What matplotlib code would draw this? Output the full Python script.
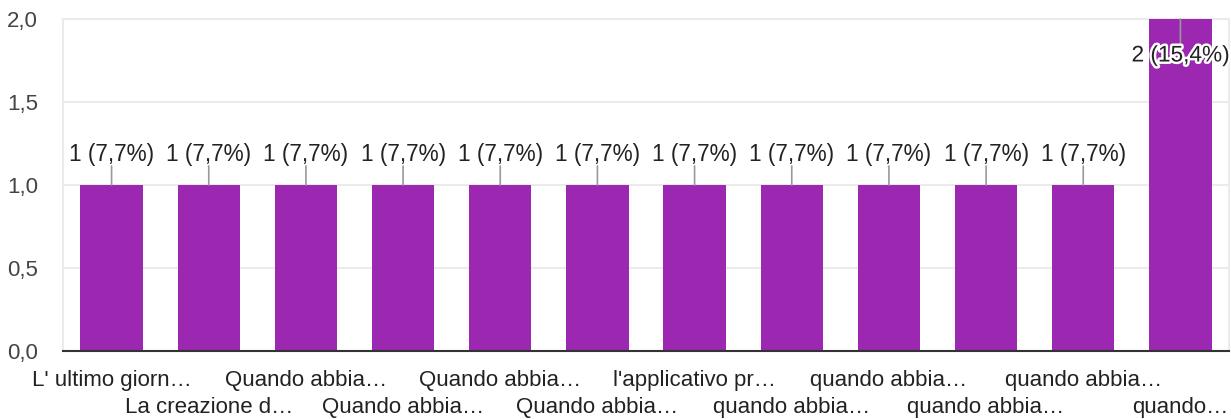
import matplotlib
matplotlib.use("Agg")
import matplotlib.pyplot as plt
import matplotlib.patheffects as pe
from matplotlib.ticker import FuncFormatter

categories = ["L' ultimo giorn…", "La creazione d…", "Quando abbia…", "Quando abbia…",
              "Quando abbia…", "Quando abbia…", "l'applicativo pr…", "quando abbia…",
              "quando abbia…", "quando abbia…", "quando abbia…", "quando…"]
values = [1, 1, 1, 1, 1, 1, 1, 1, 1, 1, 1, 2]
labels = ["1 (7,7%)"] * 11 + ["2 (15,4%)"]

plt.rcParams['font.family'] = ['Liberation Sans', 'DejaVu Sans']

W, H = 1231, 419
fig = plt.figure(figsize=(W / 100, H / 100), dpi=100)
ax = fig.add_axes([63 / W, (H - 351) / H, (1229 - 63) / W, (351 - 19) / H])

color = '#9c27b0'
x = list(range(len(categories)))
ax.bar(x, values, width=0.64, color=color, zorder=3)

ax.set_xlim(-0.5, len(categories) - 0.5)
ax.set_ylim(0, 2.0)
ax.set_yticks([0, 0.5, 1.0, 1.5, 2.0])
ax.yaxis.set_major_formatter(FuncFormatter(lambda v, p: f"{v:.1f}".replace('.', ',')))
ax.grid(axis='y', color='#ebebeb', linewidth=1.5, zorder=0)
ax.tick_params(axis='y', length=0, pad=18, labelsize=16, labelcolor='#444444')
ax.tick_params(axis='x', length=0, labelsize=16, labelcolor='#222222')

ax.set_xticks(x)
ax.set_xticklabels(categories)
for i, t in enumerate(ax.xaxis.get_major_ticks()):
    t.set_pad(14 if i % 2 == 0 else 33)

for s in ['left', 'top', 'right']:
    ax.spines[s].set_color('#ebebeb')
    ax.spines[s].set_linewidth(1.5)
ax.spines['bottom'].set_color('#333333')
ax.spines['bottom'].set_linewidth(1.5)
ax.spines['bottom'].set_zorder(5)

vmax = max(values)
fs = 16.3
for xi, v, lab in zip(x, values, labels):
    if v < vmax:
        ax.annotate('', xy=(xi, v), xytext=(0, 19), textcoords='offset pixels',
                    arrowprops=dict(arrowstyle='-', color='#999999', lw=1.2, shrinkA=0, shrinkB=0),
                    annotation_clip=False, zorder=4)
        ax.annotate(lab, xy=(xi, v), xytext=(0, 30), textcoords='offset pixels',
                    ha='center', va='center', fontsize=fs, color='#222222', zorder=4)
    else:
        ax.annotate('', xy=(xi, v), xytext=(0, -26), textcoords='offset pixels',
                    arrowprops=dict(arrowstyle='-', color='#999999', lw=1.2, shrinkA=0, shrinkB=0),
                    annotation_clip=False, zorder=4)
        ax.annotate(lab, xy=(xi, v), xytext=(0, -36), textcoords='offset pixels',
                    ha='center', va='center', fontsize=fs, color='#222222', zorder=6,
                    path_effects=[pe.withStroke(linewidth=3.5, foreground='white')])

fig.savefig('out.png', dpi=100)
